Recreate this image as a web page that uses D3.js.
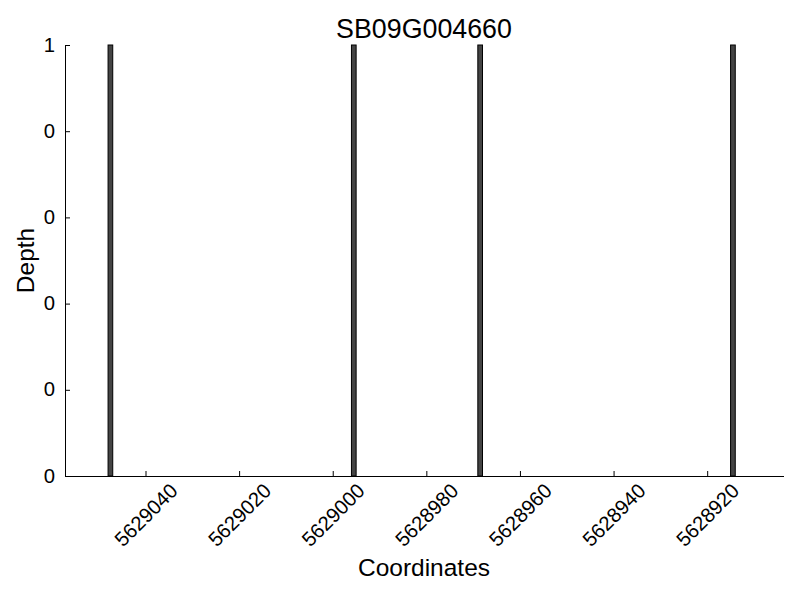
<!DOCTYPE html>
<html lang="en">
<head>
  <meta charset="UTF-8" />
  <title>SB09G004660</title>
  <script src="https://d3js.org/d3.v7.min.js"></script>
  <style>
    body { margin: 0; background: #fff; }
    svg { font-family: "Liberation Sans", Arial, sans-serif; }
    .bar { fill: #444444; stroke: #000; stroke-width: 1; }
    .spine { stroke: #000; stroke-width: 1; shape-rendering: crispEdges; }
  </style>
</head>
<body>
  <div id="chart"></div>
  <script>
    // Data
    const title = "SB09G004660";
    const positions = [5629047, 5628995, 5628968, 5628914];
    const depths = [1, 1, 1, 1];
    const xTicks = [5629040, 5629020, 5629000, 5628980, 5628960, 5628940, 5628920];
    const yTicks = [0, 0.2, 0.4, 0.6, 0.8, 1];
    const yTickLabels = ["0", "0", "0", "0", "0", "1"];
    const xDomain = [5629057.2, 5628903.8];

    const width = 800, height = 600;
    const margin = { top: 45, right: 17, bottom: 124, left: 65 };

    const svg = d3.select("#chart").append("svg")
      .attr("width", width)
      .attr("height", height);

    // Scales (x reversed as in the original)
    const x = d3.scaleLinear()
      .domain(xDomain)
      .range([margin.left, width - margin.right]);

    const y = d3.scaleLinear()
      .domain([0, 1])
      .range([height - margin.bottom, margin.top]);

    // Bars, each spanning [pos, pos+1]
    svg.selectAll(".bar")
      .data(positions)
      .enter().append("rect")
      .attr("class", "bar")
      .attr("x", (d) => Math.min(x(d), x(d + 1)))
      .attr("width", (d) => Math.abs(x(d + 1) - x(d)))
      .attr("y", (d, i) => y(depths[i]))
      .attr("height", (d, i) => y(0) - y(depths[i]));

    // X axis (inward ticks, rotated labels)
    const xAxis = svg.append("g")
      .attr("transform", `translate(0,${y(0)})`)
      .call(d3.axisBottom(x).tickValues(xTicks).tickSizeInner(-5).tickSizeOuter(0).tickFormat(d3.format("d")));
    xAxis.select(".domain").attr("class", "domain spine").attr("stroke", "#000");
    xAxis.selectAll(".tick line").attr("stroke", "#000");
    xAxis.selectAll(".tick text")
      .attr("font-size", 20.3)
      .attr("fill", "#000")
      .attr("text-anchor", "middle")
      .attr("dominant-baseline", "central")
      .attr("y", 0)
      .attr("dy", null)
      .attr("transform", "translate(0,39) rotate(-45)");

    // Y axis (inward ticks, integer labels)
    const yAxis = svg.append("g")
      .attr("transform", `translate(${margin.left},0)`)
      .call(d3.axisLeft(y).tickValues(yTicks).tickSizeInner(-5).tickSizeOuter(0)
        .tickFormat((d, i) => yTickLabels[i]));
    yAxis.select(".domain").attr("class", "domain spine").attr("stroke", "#000");
    yAxis.selectAll(".tick line").attr("stroke", "#000");
    yAxis.selectAll(".tick text")
      .attr("font-size", 20.3)
      .attr("fill", "#000")
      .attr("x", -10)
      .attr("dy", "0.3em");

    // Title and axis labels
    const cx = (margin.left + width - margin.right) / 2;
    svg.append("text")
      .attr("x", cx).attr("y", 38)
      .attr("text-anchor", "middle")
      .attr("font-size", 26.8)
      .text(title);

    svg.append("text")
      .attr("x", cx).attr("y", 576)
      .attr("text-anchor", "middle")
      .attr("font-size", 24.5)
      .text("Coordinates");

    svg.append("text")
      .attr("transform", `translate(34,${(margin.top + height - margin.bottom) / 2}) rotate(-90)`)
      .attr("text-anchor", "middle")
      .attr("font-size", 24.5)
      .text("Depth");
  </script>
</body>
</html>
